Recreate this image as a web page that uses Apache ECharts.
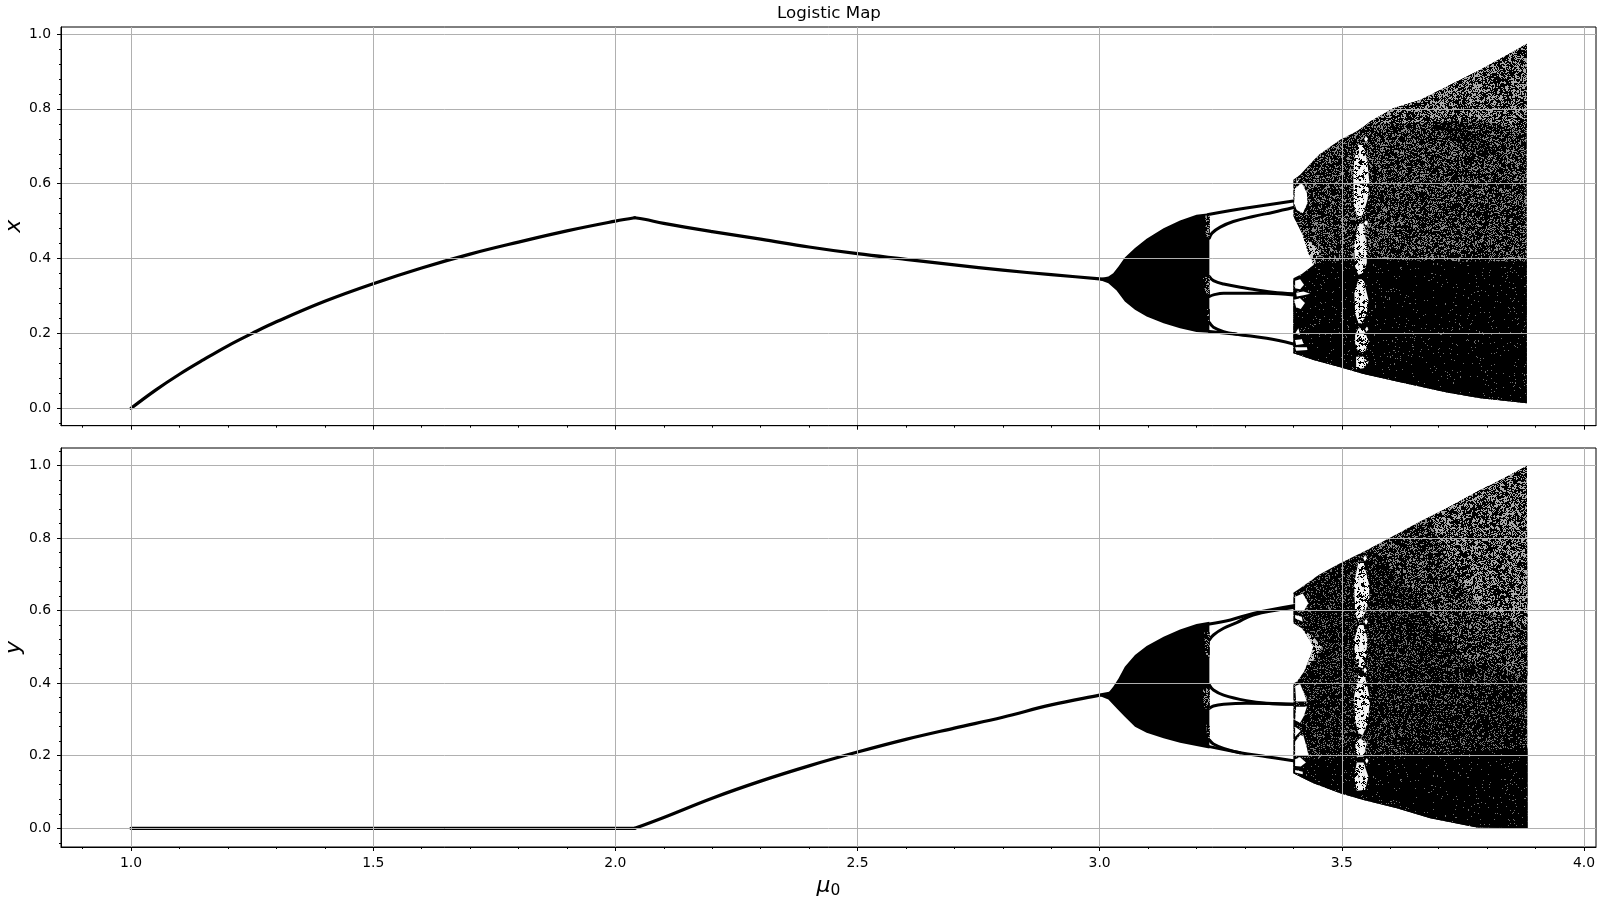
<!DOCTYPE html>
<html><head><meta charset="utf-8"><style>html,body{margin:0;padding:0;background:#fff}#c{width:1600px;height:900px}</style>
<script src="https://cdn.jsdelivr.net/npm/echarts@6/dist/echarts.min.js"></script></head><body><div id="c"></div>
<script>
// ---- tick values
const xMajor=[1,1.5,2,2.5,3,3.5,4];
const xMinor=[0.9,1.1,1.2,1.3,1.4,1.6,1.7,1.8,1.9,2.1,2.2,2.3,2.4,2.6,2.7,2.8,2.9,3.1,3.2,3.3,3.4,3.6,3.7,3.8,3.9,4.0];
const yMajor=[0,0.2,0.4,0.6,0.8,1];
const yMinor=[-0.04,0.04,0.08,0.12,0.16,0.24,0.28,0.32,0.36,0.44,0.48,0.52,0.56,0.64,0.68,0.72,0.76,0.84,0.88,0.92,0.96,1.04];

// ---- upper panel: [mu0, x]
const xRise=[[1,0],[1.05,.048],[1.1,.091],[1.15,.13],[1.2,.167],[1.25,.2],[1.3,.231],[1.4,.286],[1.5,.333],[1.6,.375],[1.7,.412],[1.8,.444],[1.9,.474],[2,.5],[2.04,.509]];
const xFall=[[2.04,.509],[2.06,.505],[2.1,.494],[2.2,.472],[2.3,.452],[2.4,.431],[2.5,.413],[2.6,.398],[2.7,.383],[2.8,.369],[2.9,.357],[3,.346],[3.02,.343]];
const xBranchA=[[3.2245,.518],[3.303,.535],[3.4,.554]];
const xBranchB=[[3.2266,.4545],[3.232,.468],[3.249,.484],[3.276,.499],[3.317,.5125],[3.359,.524],[3.4,.5365]];
const xBranchC=[[3.2266,.352],[3.235,.341],[3.256,.332],[3.303,.321],[3.358,.31],[3.4,.306]];
const xBranchD=[[3.2266,.2986],[3.235,.303],[3.256,.3075],[3.303,.3075],[3.345,.3075],[3.4,.303]];
const xBranchE=[[3.2266,.229],[3.235,.2166],[3.256,.205],[3.283,.198],[3.345,.187],[3.4,.172]];
const xBranchF=[[3.2266,.205],[3.283,.198]];
const xDouble=[[3,.3476],[3.018,.352],[3.028,.361],[3.039,.379],[3.052,.403],[3.073,.428],[3.097,.453],[3.132,.481],[3.166,.502],[3.2,.517],[3.2266,.521],[3.2266,.202],[3.2,.204],[3.166,.214],[3.132,.227],[3.097,.245],[3.073,.263],[3.052,.285],[3.035,.3146],[3.018,.334],[3,.343]];
const xFade=[[[3.218,.515],[3.2275,.515],[3.2275,.455],[3.219,.46]],[[3.212,.35],[3.2275,.352],[3.2275,.3],[3.218,.31]],[[3.22,.265],[3.2275,.265],[3.2275,.228],[3.222,.235]]];
const xChaos=[[3.4,.6105],[3.414,.624],[3.452,.677],[3.4966,.7175],[3.531,.74],[3.5585,.7665],[3.607,.802],[3.662,.824],[3.717,.86],[3.786,.9046],[3.855,.9537],[3.882,.974],[3.882,.0134],[3.786,.0267],[3.717,.042],[3.6136,.0713],[3.5448,.0918],[3.4966,.1096],[3.4415,.129],[3.4,.147]];
const xLight=[[3.5585,.7665],[3.607,.802],[3.662,.824],[3.717,.86],[3.786,.9046],[3.855,.9537],[3.882,.974],[3.882,.744],[3.786,.771],[3.648,.762],[3.5585,.762]];
const xDeep=[[3.4,.343],[3.4415,.383],[3.482,.392],[3.5585,.401],[3.648,.395],[3.75,.392],[3.882,.392],[3.882,.0134],[3.786,.0267],[3.717,.042],[3.6136,.0713],[3.5448,.0918],[3.4966,.1096],[3.4415,.129],[3.4,.147]];
const xStripe=[[3.6825,.753],[3.7307,.771],[3.827,.682],[3.786,.673]];
const xGrey=[[3.4194,.459],[3.4346,.4456],[3.455,.419],[3.4415,.383],[3.431,.4144]];
const xOpen=[
 [[3.39,.5125],[3.4,.5125],[3.4105,.4857],[3.421,.459],[3.4346,.4144],[3.4415,.383],[3.4174,.359],[3.4,.3476],[3.39,.3476]],
 [[3.4036,.588],[3.4174,.6016],[3.428,.575],[3.429,.548],[3.4194,.521],[3.407,.53],[3.4015,.548]],
 [[3.4057,.604],[3.4153,.617],[3.408,.6016]],
 [[3.4036,.341],[3.414,.345],[3.422,.33],[3.414,.318],[3.4036,.321]],
 [[3.4057,.309],[3.421,.312],[3.4346,.3057],[3.421,.302],[3.407,.2986]],
 [[3.4015,.2897],[3.414,.294],[3.424,.281],[3.4153,.2656],[3.4057,.27]],
 [[3.4036,.2],[3.4105,.214],[3.414,.196]],
 [[3.4036,.1827],[3.4174,.1845],[3.421,.172],[3.4057,.169]],
 [[3.4036,.163],[3.428,.163],[3.429,.156],[3.4057,.154]],
 [[3.546,.7193],[3.55,.727],[3.554,.7193],[3.55,.711]],
 [[3.546,.4955],[3.55,.503],[3.554,.4955],[3.55,.488]],
 [[3.548,.2115],[3.5517,.218],[3.555,.2115],[3.5517,.205]]
];
const xWindow=[
 [[3.5344,.704],[3.5448,.704],[3.553,.655],[3.557,.6016],[3.553,.557],[3.5448,.521],[3.5344,.5036],[3.5255,.539],[3.524,.6016],[3.5255,.664]],
 [[3.5344,.493],[3.5448,.493],[3.5517,.432],[3.5517,.388],[3.5434,.361],[3.5344,.3565],[3.5275,.379],[3.5255,.432]],
 [[3.5344,.345],[3.5448,.345],[3.555,.2897],[3.5517,.254],[3.541,.2273],[3.5344,.2273],[3.5275,.254],[3.526,.3075]],
 [[3.5344,.214],[3.5448,.214],[3.5558,.178],[3.548,.1515],[3.5344,.149],[3.5275,.174],[3.5275,.196]],
 [[3.5296,.138],[3.5448,.138],[3.555,.122],[3.5448,.107],[3.5296,.104]]
];
const xWindowDots=[[.69,.52],[.485,.37],[.335,.24],[.205,.16],[.13,.11]];

// ---- lower panel: [mu0, y]
const yFlat=[[1,0],[2.04,0]];
const yRise=[[2.04,0],[2.1,.03],[2.2,.083],[2.3,.13],[2.4,.172],[2.5,.21],[2.6,.245],[2.7,.276],[2.8,.306],[2.9,.34],[3,.367],[3.02,.372]];
const yBranchA=[[3.2266,.563],[3.27,.574],[3.317,.592],[3.4,.613]];
const yBranchB=[[3.2266,.519],[3.235,.5326],[3.256,.551],[3.283,.5666],[3.317,.5877],[3.4,.608]];
const yBranchC=[[3.2266,.395],[3.235,.381],[3.256,.367],[3.303,.3517],[3.345,.3444],[3.4,.3416]];
const yBranchD=[[3.2266,.3306],[3.235,.337],[3.256,.3416],[3.303,.3444],[3.4,.3416]];
const yBranchE=[[3.2266,.2433],[3.235,.2323],[3.256,.2204],[3.29,.2084],[3.345,.1974],[3.4,.1864]];
const yBranchF=[[3.2266,.225],[3.29,.2084]];
const yDouble=[[3,.3673],[3.018,.3737],[3.028,.39],[3.039,.413],[3.052,.445],[3.073,.4775],[3.097,.502],[3.132,.528],[3.166,.548],[3.2,.563],[3.2266,.569],[3.2266,.22],[3.2,.2268],[3.166,.236],[3.132,.248],[3.097,.2635],[3.073,.28],[3.052,.3076],[3.035,.3306],[3.018,.355],[3,.3645]];
const yFade=[[[3.216,.54],[3.2275,.54],[3.2275,.47],[3.218,.48]],[[3.212,.38],[3.2275,.39],[3.2275,.33],[3.216,.33]],[[3.22,.285],[3.2275,.285],[3.2275,.245],[3.222,.25]]];
const yChaos=[[3.4,.649],[3.414,.661],[3.452,.698],[3.4966,.73],[3.5448,.762],[3.607,.8035],[3.662,.845],[3.717,.8815],[3.786,.932],[3.834,.964],[3.882,.998],[3.8836,0],[3.779,.002],[3.6825,.0275],[3.6136,.055],[3.5448,.078],[3.4966,.0964],[3.4415,.124],[3.414,.1423],[3.4,.1515]];
const yHalf=[[3.56,.772],[3.662,.845],[3.717,.8815],[3.786,.932],[3.834,.964],[3.882,.998],[3.8836,.42],[3.75,.46],[3.64,.66]];
const yLight=[[3.68,.857],[3.717,.8815],[3.786,.932],[3.834,.964],[3.882,.998],[3.8836,.56],[3.79,.6],[3.72,.73]];
const yDeep=[[3.4415,.19],[3.8836,.22],[3.8836,0],[3.779,.002],[3.6825,.0275],[3.6136,.055],[3.5448,.078],[3.4966,.0964],[3.4415,.124],[3.414,.1423],[3.4,.1515],[3.4,.19]];
const yGrey=[[3.421,.546],[3.4415,.528],[3.4587,.5],[3.4415,.4637],[3.424,.427],[3.4346,.473],[3.4415,.5]];
const yOpen=[
 [[3.39,.5647],[3.4,.5647],[3.4174,.551],[3.431,.528],[3.4415,.5],[3.4346,.473],[3.422,.4316],[3.407,.404],[3.4,.3994],[3.39,.3994]],
 [[3.4036,.638],[3.4194,.647],[3.431,.62],[3.421,.597],[3.4036,.6015]],
 [[3.4036,.5877],[3.4174,.583],[3.4194,.569],[3.4036,.5785]],
 [[3.4036,.392],[3.414,.3976],[3.422,.372],[3.428,.349],[3.4057,.349]],
 [[3.4057,.335],[3.428,.335],[3.421,.3076],[3.414,.291],[3.4036,.298]],
 [[3.4036,.28],[3.4153,.269],[3.4036,.2525]],
 [[3.4036,.2388],[3.414,.257],[3.421,.2544],[3.428,.2204],[3.431,.202],[3.4036,.202]],
 [[3.4036,.19],[3.414,.1956],[3.426,.181],[3.4153,.17],[3.4036,.1717]],
 [[3.4036,.1607],[3.4194,.156],[3.4194,.1488],[3.4036,.154]],
 [[3.544,.744],[3.548,.752],[3.552,.744],[3.548,.736]],
 [[3.546,.569],[3.55,.577],[3.554,.569],[3.55,.561]],
 [[3.544,.436],[3.548,.444],[3.552,.436],[3.548,.428]],
 [[3.548,.186],[3.5517,.194],[3.555,.186],[3.5517,.178]]
];
const yWindow=[
 [[3.5344,.7346],[3.5448,.7346],[3.5558,.675],[3.557,.638],[3.548,.592],[3.5344,.572],[3.5275,.592],[3.5255,.675]],
 [[3.5344,.56],[3.5448,.56],[3.553,.519],[3.55,.473],[3.5434,.441],[3.5344,.445],[3.5275,.473],[3.5255,.519]],
 [[3.5344,.422],[3.548,.418],[3.5585,.3535],[3.553,.289],[3.5434,.257],[3.5344,.2617],[3.5275,.298],[3.5255,.363]],
 [[3.538,.248],[3.5517,.234],[3.5448,.1974],[3.531,.1974],[3.5275,.234]],
 [[3.531,.181],[3.5448,.181],[3.555,.142],[3.548,.1056],[3.531,.1038],[3.5255,.142]]
];
const yWindowDots=[[.72,.59],[.55,.45],[.41,.27],[.24,.2],[.175,.115]];
const windowColumns=[3.536,3.5456];

// ---- fill textures: fixed speckle tiles standing in for the dense point clouds (appearance only)
function tile(density,offGrey){
  const n=256,cv=document.createElement('canvas');cv.width=cv.height=n;
  const g=cv.getContext('2d'),im=g.createImageData(n,n);
  const h=(x,y,s)=>{let v=Math.imul(x+s,374761393)+Math.imul(y,668265263)|0;v=Math.imul(v^(v>>>13),1274126177);return((v^(v>>>16))>>>0)/4294967296;};
  for(let y=0;y<n;y++)for(let x=0;x<n;x++){
    const u=((x+y)&255)>>2,w=((x-y)&255)>>2;
    const patch=(h(u,w,7)-.5)*1.6*(1-density);
    const on=h(x,y,11)<density+patch;
    const k=(y*n+x)*4,c=on?0:offGrey;
    im.data[k]=im.data[k+1]=im.data[k+2]=c;im.data[k+3]=255;
  }
  g.putImageData(im,0,0);
  return {image:cv,repeat:'repeat'};
}
const fills={solid:'#000',white:'#fff',light:tile(.58,170),half:tile(.68,140),medium:tile(.7,135),mid:tile(.8,115),deep:tile(.97,110),stripe:tile(.78,115),fade:tile(.7,150),grey:tile(.45,200),window:tile(.04,245),dots:tile(.35,235)};

function polyLayer(polys,fill,ax,z){
  return {type:'custom',xAxisIndex:ax,yAxisIndex:ax,silent:true,z:z,clip:true,
    data:polys.map((p,i)=>[i]),
    renderItem:(params,api)=>({type:'polygon',
      shape:{points:polys[api.value(0)].map(q=>api.coord(q))},
      style:{fill:fills[fill],stroke:null}})};
}
function columnLayer(spans,ax){
  const polys=[];
  spans.forEach(s=>windowColumns.forEach(m=>polys.push([[m-.0016,s[0]],[m+.0016,s[0]],[m+.0016,s[1]],[m-.0016,s[1]]])));
  return polyLayer(polys,'dots',ax,4);
}
function curve(pts,ax,w,smooth){
  return {type:'line',xAxisIndex:ax,yAxisIndex:ax,data:pts,symbol:'none',silent:true,z:2,smooth:smooth?0.4:false,
    lineStyle:{color:'#000',width:w,cap:'round',join:'round'}};
}
const ft='"DejaVu Sans"';
function xAxes(gi,labels,name){
  const range={min:.8554,max:4.0249,gridIndex:gi,type:'value'};
  return [
   Object.assign({},range,{z:5,position:'bottom',axisLine:{show:true,onZero:false,lineStyle:{color:'#000',width:1}},
     axisTick:{show:true,length:4,lineStyle:{color:'#000',width:1},customValues:xMajor},
     axisLabel:{show:labels,customValues:xMajor,formatter:v=>v.toFixed(1),color:'#000',fontFamily:ft,fontSize:13.9,margin:9},
     splitLine:{show:true,lineStyle:{color:'#b0b0b0',width:1}},minorTick:{show:false},
     name:name,nameLocation:'middle',nameGap:26,
     nameTextStyle:{rich:{m:{fontFamily:ft,fontStyle:'italic',fontSize:22,color:'#000'},s:{fontFamily:ft,fontSize:15.5,color:'#000',padding:[10,0,0,0]}}}}),
   Object.assign({},range,{z:5,position:'bottom',axisLine:{show:false,onZero:false},
     axisTick:{show:true,length:2,lineStyle:{color:'#000',width:1},customValues:xMinor},
     axisLabel:{show:false},splitLine:{show:false}})
  ];
}
function yAxes(gi,min,max,name,gap){
  const range={min:min,max:max,gridIndex:gi,type:'value'};
  return [
   Object.assign({},range,{z:5,position:'left',axisLine:{show:true,onZero:false,lineStyle:{color:'#000',width:1}},
     axisTick:{show:true,length:4,lineStyle:{color:'#000',width:1},customValues:yMajor},
     axisLabel:{customValues:yMajor,formatter:v=>v.toFixed(1),color:'#000',fontFamily:ft,fontSize:13.9,margin:10},
     splitLine:{show:true,lineStyle:{color:'#b0b0b0',width:1}},
     name:name,nameLocation:'middle',nameGap:gap,nameMoveOverlap:false,
     nameTextStyle:{fontFamily:ft,fontStyle:'italic',fontSize:22,color:'#000'}}),
   Object.assign({},range,{z:5,position:'left',axisLine:{show:false,onZero:false},
     axisTick:{show:true,length:2,lineStyle:{color:'#000',width:1},customValues:yMinor},
     axisLabel:{show:false},splitLine:{show:false}})
  ];
}
const series=[];
[xRise,xFall].forEach(c=>series.push(curve(c,0,3.2,true)));
[xBranchA,xBranchB,xBranchC,xBranchD,xBranchE,xBranchF].forEach(c=>series.push(curve(c,0,3,true)));
series.push(polyLayer([xDouble],'solid',0,2),polyLayer(xFade,'fade',0,3),
  polyLayer([xChaos],'medium',0,2),polyLayer([xLight],'light',0,3),polyLayer([xDeep],'deep',0,3),polyLayer([xStripe],'stripe',0,3),
  polyLayer(xOpen,'white',0,4),polyLayer([xGrey],'grey',0,4),polyLayer(xWindow,'window',0,4),columnLayer(xWindowDots,0));
[yFlat,yRise].forEach(c=>series.push(curve(c,2,3.2,true)));
[yBranchA,yBranchB,yBranchC,yBranchD,yBranchE,yBranchF].forEach(c=>series.push(curve(c,2,3,true)));
series.push(polyLayer([yDouble],'solid',2,2),polyLayer(yFade,'fade',2,3),
  polyLayer([yChaos],'mid',2,2),polyLayer([yHalf],'half',2,3),polyLayer([yLight],'light',2,3),polyLayer([yDeep],'deep',2,3),
  polyLayer(yOpen,'white',2,4),polyLayer([yGrey],'grey',2,4),polyLayer(yWindow,'window',2,4),columnLayer(yWindowDots,2));

const chart=echarts.init(document.getElementById('c'),null,{renderer:'canvas'});
chart.setOption({
  animation:false,backgroundColor:'#fff',
  title:{text:'Logistic Map',left:824,top:0,textAlign:'center',textStyle:{fontFamily:ft,fontWeight:'normal',fontSize:16.67,color:'#000'}},
  grid:[{left:61,top:27,width:1535,height:398.7,show:true,borderColor:'#000',borderWidth:1,backgroundColor:'transparent',outerBoundsMode:'none'},
        {left:61,top:448,width:1535,height:399,show:true,borderColor:'#000',borderWidth:1,backgroundColor:'transparent',outerBoundsMode:'none'}],
  xAxis:[...xAxes(0,false,''),...xAxes(1,true,'{m|μ}{s|0}')],
  yAxis:[...yAxes(0,-.0465,1.0187,'x',36),...yAxes(1,-.0515,1.0477,'y',36)],
  series:series
});
</script></body></html>
